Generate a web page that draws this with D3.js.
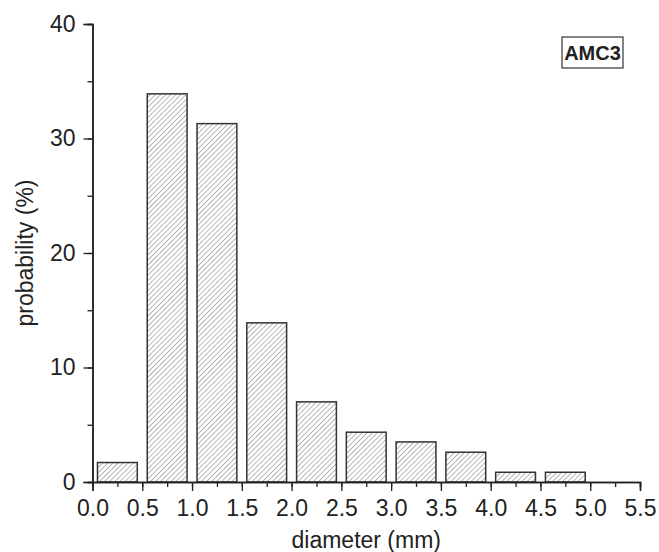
<!DOCTYPE html>
<html>
<head>
<meta charset="utf-8">
<script src="https://cdn.jsdelivr.net/npm/d3@7"></script>
<style>
  body { margin: 0; background: #fff; }
  text { font-family: "Liberation Sans", Arial, sans-serif; fill: #222; }
</style>
</head>
<body>
<svg id="chart" width="659" height="552"></svg>
<script>
// bin edges (mm) and probability (%)
var binStart = [0.0, 0.5, 1.0, 1.5, 2.0, 2.5, 3.0, 3.5, 4.0, 4.5];
var binEnd   = [0.5, 1.0, 1.5, 2.0, 2.5, 3.0, 3.5, 4.0, 4.5, 5.0];
var probability = [1.7, 33.9, 31.3, 13.9, 7.0, 4.35, 3.5, 2.6, 0.85, 0.85];
var xTicks = [0.0, 0.5, 1.0, 1.5, 2.0, 2.5, 3.0, 3.5, 4.0, 4.5, 5.0, 5.5];
var yTicks = [0, 10, 20, 30, 40];

var svg = d3.select('#chart');
var plotLeft = 92.5, plotRight = 640, plotTop = 24, plotBottom = 482;

var x = d3.scaleLinear().domain([0, 5.5]).range([plotLeft, plotRight]);
var y = d3.scaleLinear().domain([0, 40]).range([plotBottom, plotTop]);

// hatch pattern
var defs = svg.append('defs');
var pat = defs.append('pattern')
  .attr('id', 'hatch')
  .attr('patternUnits', 'userSpaceOnUse')
  .attr('width', 3.6).attr('height', 3.6)
  .attr('patternTransform', 'rotate(45)');
pat.append('rect').attr('width', 3.6).attr('height', 3.6).attr('fill', '#fff');
pat.append('line')
  .attr('x1', 0).attr('y1', 0).attr('x2', 0).attr('y2', 3.6)
  .attr('stroke', '#7a7a7a').attr('stroke-width', 1.1);

var bars = d3.range(probability.length);
svg.selectAll('rect.bar')
  .data(bars)
  .enter()
  .append('rect')
  .attr('class', 'bar')
  .attr('x', function(i) { return x(binStart[i] + 0.05); })
  .attr('width', function(i) { return x(binEnd[i] - 0.05) - x(binStart[i] + 0.05); })
  .attr('y', function(i) { return y(probability[i]); })
  .attr('height', function(i) { return y(0) - y(probability[i]); })
  .attr('fill', 'url(#hatch)')
  .attr('stroke', '#333')
  .attr('stroke-width', 1.5);

// x axis
var xAxis = svg.append('g').attr('transform', 'translate(0,' + plotBottom + ')');
xAxis.append('g')
  .call(d3.axisBottom(x).tickValues(d3.range(0, 5.51, 0.25)).tickSize(5).tickFormat(''));
xAxis.append('g')
  .call(d3.axisBottom(x).tickValues(xTicks).tickSize(9).tickPadding(9)
  .tickFormat(d3.format('.1f')));
xAxis.selectAll('.domain').attr('stroke', '#222').attr('stroke-width', 1.5);
xAxis.selectAll('.tick line').attr('stroke', '#222').attr('stroke-width', 1.3);
xAxis.selectAll('text').style('font-size', '23px').attr('fill', '#222');

// y axis
var yAxis = svg.append('g').attr('transform', 'translate(' + plotLeft + ',0)');
yAxis.append('g')
  .call(d3.axisLeft(y).tickValues(d3.range(0, 40.1, 5)).tickSize(5).tickFormat(''));
yAxis.append('g')
  .call(d3.axisLeft(y).tickValues(yTicks).tickSize(9).tickPadding(8)
  .tickFormat(d3.format('d')));
yAxis.selectAll('.domain').attr('stroke', '#222').attr('stroke-width', 1.5);
yAxis.selectAll('.tick line').attr('stroke', '#222').attr('stroke-width', 1.3);
yAxis.selectAll('text').style('font-size', '23px').attr('fill', '#222');

// axis titles
svg.append('text')
  .attr('x', (plotLeft + plotRight) / 2).attr('y', 548)
  .attr('text-anchor', 'middle')
  .style('font-size', '23px')
  .text('diameter (mm)');

svg.append('text')
  .attr('transform', 'translate(33,' + ((plotTop + plotBottom) / 2) + ') rotate(-90)')
  .attr('text-anchor', 'middle')
  .style('font-size', '23px')
  .text('probability (%)');

// label box
svg.append('rect')
  .attr('x', 562).attr('y', 37).attr('width', 61).attr('height', 31)
  .attr('fill', '#fff').attr('stroke', '#333').attr('stroke-width', 1.2);
svg.append('text')
  .attr('x', 592.5).attr('y', 60)
  .attr('text-anchor', 'middle')
  .style('font-size', '20px').style('font-weight', 'bold')
  .text('AMC3');
</script>
</body>
</html>
